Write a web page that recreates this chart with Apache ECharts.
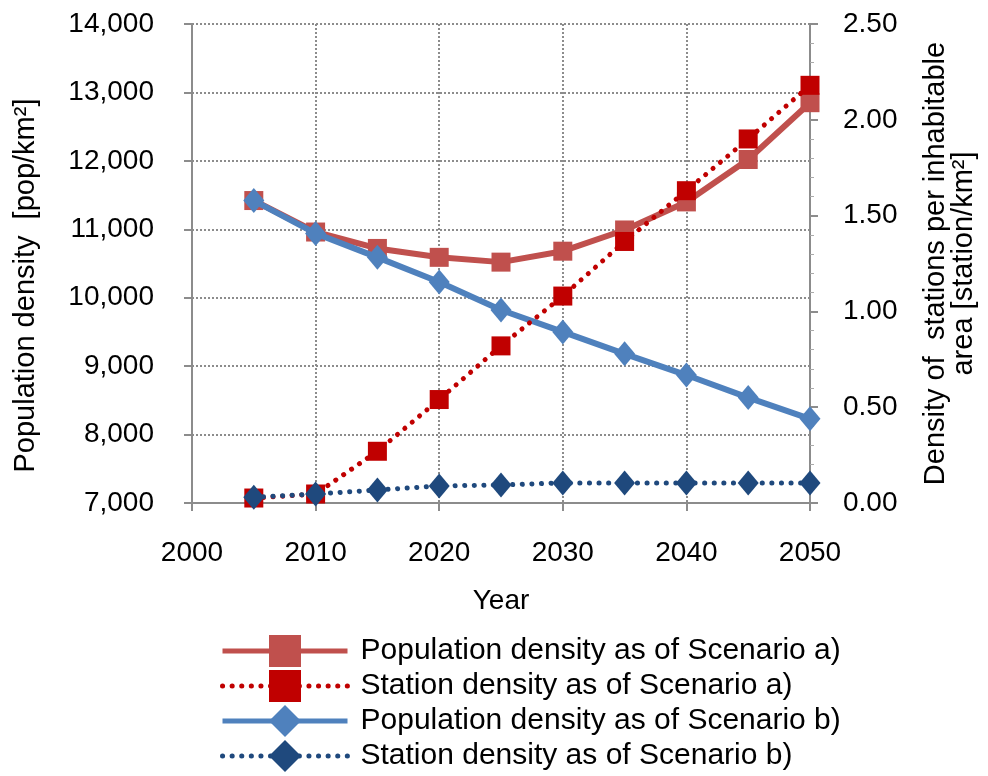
<!DOCTYPE html>
<html><head><meta charset="utf-8">
<script src="https://cdn.jsdelivr.net/npm/echarts@6/dist/echarts.min.js"></script>
<style>html,body{margin:0;padding:0;background:#fff}#c{width:988px;height:776px}</style>
</head><body><div id="c"></div>
<script>
const years = [2005, 2010, 2015, 2020, 2025, 2030, 2035, 2040, 2045, 2050];
const popA = [11420, 10960, 10720, 10590, 10520, 10680, 10990, 11400, 12020, 12850];
const stationA = [0.026, 0.047, 0.27, 0.54, 0.82, 1.08, 1.365, 1.63, 1.90, 2.18];
const popB = [11420, 10940, 10590, 10230, 9820, 9500, 9180, 8870, 8540, 8230];
const stationB = [0.03, 0.047, 0.068, 0.089, 0.094, 0.105, 0.105, 0.105, 0.105, 0.105];
const seriesNames = ['Population density as of Scenario a)', 'Station density as of Scenario a)', 'Population density as of Scenario b)', 'Station density as of Scenario b)'];
const pair = arr => years.map((y, i) => [y, arr[i]]);
const F = 'Liberation Sans, Arial, sans-serif';
const chart = echarts.init(document.getElementById('c'));
const dotted = [0.1, 9.5];
chart.setOption({
  animation: false,
  textStyle: {fontFamily: F, color: '#000'},
  grid: {left: 192, right: 178, top: 24, bottom: 273},
  legend: {
    orient: 'vertical', left: 220, top: 635, padding: 0, itemWidth: 125, itemHeight: 40, itemGap: 3,
    textStyle: {fontSize: 30, color: '#000', fontFamily: F, padding: [0, 0, 0, 8]},
    lineStyle: {width: 5},
    data: seriesNames
  },
  xAxis: {
    type: 'value', min: 2000, max: 2050, interval: 10,
    name: 'Year', nameLocation: 'middle', nameGap: 84,
    nameTextStyle: {fontSize: 28, color: '#000'},
    axisLine: {lineStyle: {color: '#8c8c8c', width: 2}},
    axisTick: {show: true, length: 8, lineStyle: {color: '#8c8c8c', width: 2}},
    axisLabel: {fontSize: 28, color: '#000', margin: 36, formatter: v => String(v)},
    splitLine: {show: true, lineStyle: {color: '#8c8c8c', type: 'dotted', width: 2}}
  },
  yAxis: [{
    type: 'value', min: 7000, max: 14000, interval: 1000,
    name: 'Population density  [pop/km²]', nameLocation: 'middle', nameGap: 152,
    nameTextStyle: {fontSize: 29, color: '#000', padding: [0, 44, 0, 0]},
    axisLine: {show: true, lineStyle: {color: '#8c8c8c', width: 2}},
    axisTick: {show: true, length: 8, lineStyle: {color: '#8c8c8c', width: 2}},
    axisLabel: {fontSize: 28, color: '#000', margin: 38, formatter: v => v.toLocaleString('en-US')},
    splitLine: {show: true, lineStyle: {color: '#8c8c8c', type: 'dotted', width: 2}}
  }, {
    type: 'value', min: 0, max: 2.5, interval: 0.5, position: 'right',
    name: 'Density of  stations per inhabitable\narea [station/km²]', nameLocation: 'middle', nameGap: 112, nameRotate: 90,
    nameTextStyle: {fontSize: 29, color: '#000', lineHeight: 28, align: 'center', verticalAlign: 'top'},
    axisLine: {show: true, lineStyle: {color: '#8c8c8c', width: 2}},
    axisTick: {show: true, length: 8, lineStyle: {color: '#8c8c8c', width: 2}},
    minorTick: {show: true, splitNumber: 5, length: 4, lineStyle: {color: '#aaaaaa', width: 1}},
    axisLabel: {fontSize: 28, color: '#000', margin: 33, formatter: v => v.toFixed(2)},
    splitLine: {show: false}
  }],
  series: [{
    name: seriesNames[0], type: 'line', yAxisIndex: 0, data: pair(popA), z: 2,
    symbol: 'rect', symbolSize: 19, color: '#C0504D',
    lineStyle: {color: '#C0504D', width: 6}, itemStyle: {color: '#C0504D'}
  }, {
    name: seriesNames[1], type: 'line', yAxisIndex: 1, data: pair(stationA), z: 4,
    symbol: 'rect', symbolSize: 19, color: '#C00000',
    lineStyle: {color: '#C00000', width: 5, type: dotted, cap: 'round'}, itemStyle: {color: '#C00000'}
  }, {
    name: seriesNames[2], type: 'line', yAxisIndex: 0, data: pair(popB), z: 3,
    symbol: 'diamond', symbolSize: [21, 25], color: '#4F81BD',
    lineStyle: {color: '#4F81BD', width: 6}, itemStyle: {color: '#4F81BD'}
  }, {
    name: seriesNames[3], type: 'line', yAxisIndex: 1, data: pair(stationB), z: 5,
    symbol: 'diamond', symbolSize: [21, 25], color: '#1F497D',
    lineStyle: {color: '#1F497D', width: 5, type: dotted, cap: 'round'}, itemStyle: {color: '#1F497D'}
  }]
});
</script></body></html>
